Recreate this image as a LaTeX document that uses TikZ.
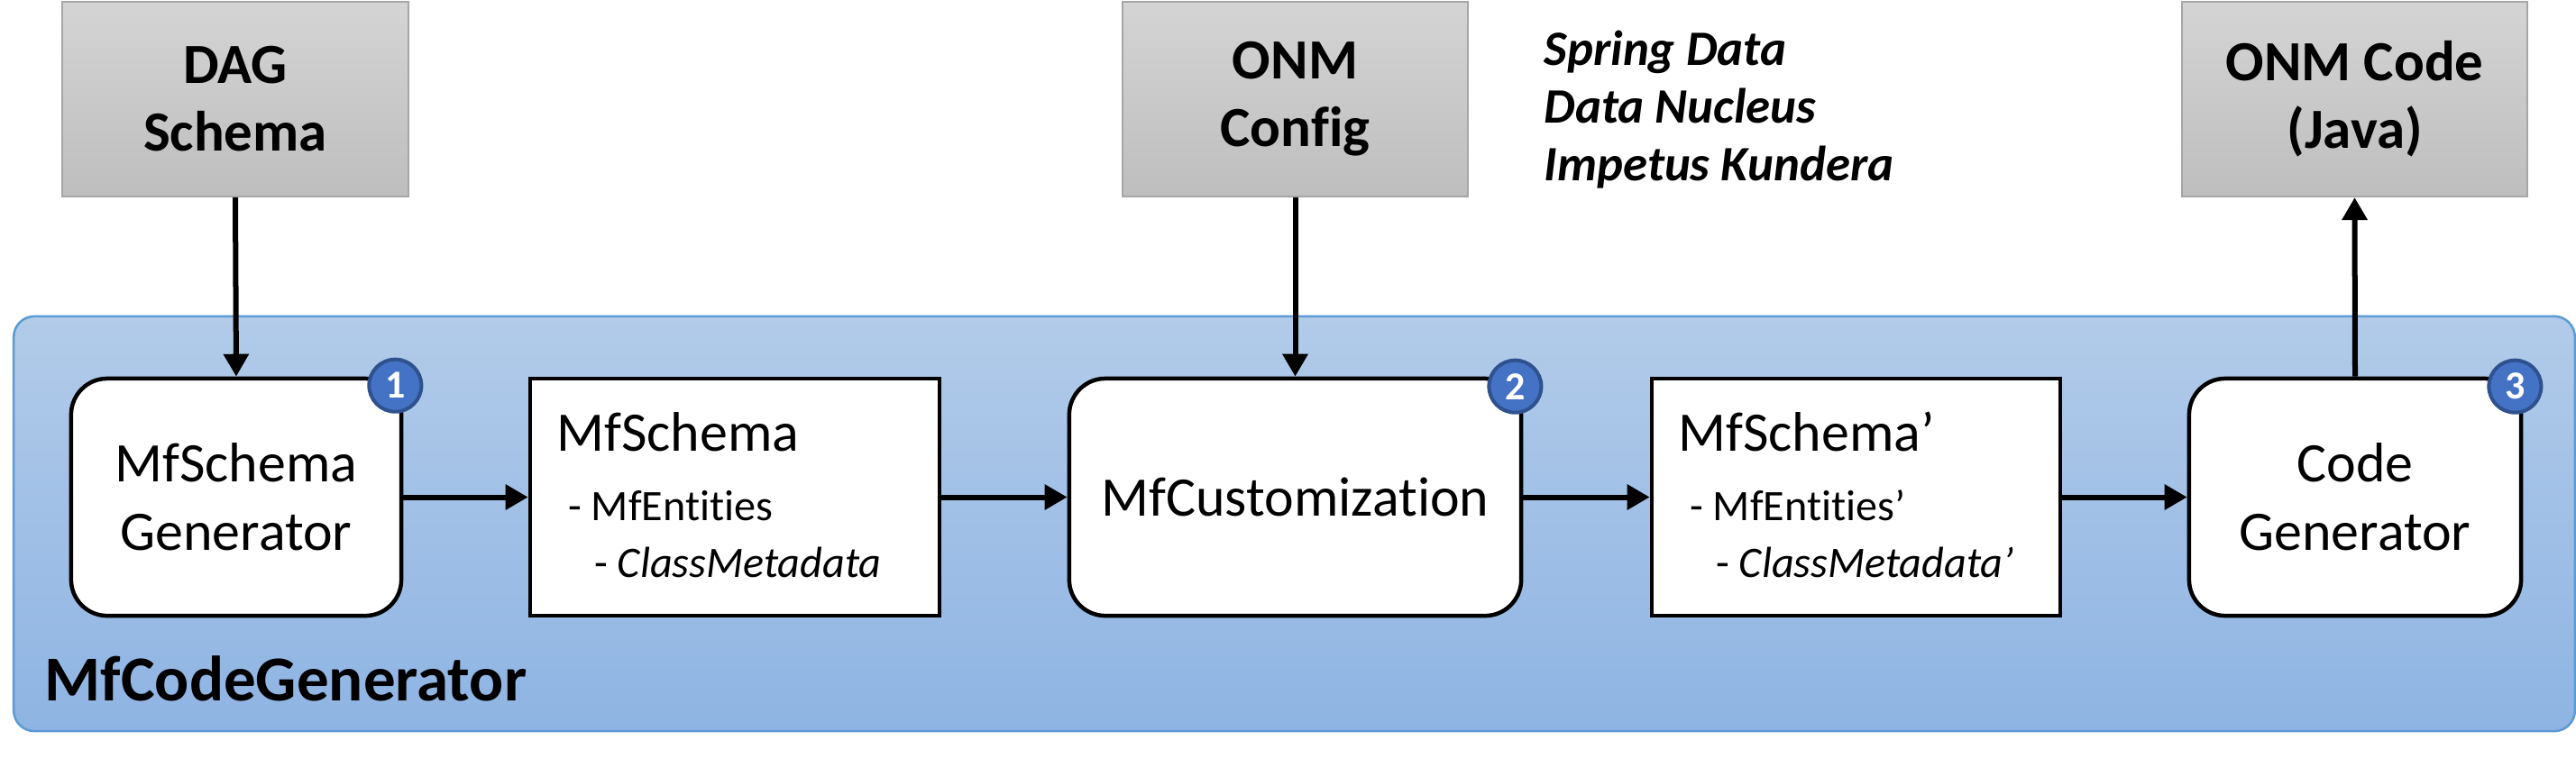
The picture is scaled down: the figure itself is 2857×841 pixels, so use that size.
\documentclass[tikz,border=0pt]{standalone}
\usepackage{fontspec}
\setmainfont{Carlito}[Ligatures=NoCommon]
\usetikzlibrary{arrows.meta,calc}
\definecolor{contTop}{RGB}{178,203,233}
\definecolor{contBot}{RGB}{142,180,227}
\definecolor{contLine}{RGB}{91,155,213}
\definecolor{grayTop}{RGB}{212,212,212}
\definecolor{grayBot}{RGB}{190,190,190}
\definecolor{grayLine}{RGB}{166,166,166}
\definecolor{badgeFill}{RGB}{68,114,196}
\definecolor{badgeLine}{RGB}{47,82,143}
\tikzset{
  container/.style={draw=contLine, line width=0.025cm, rounded corners=0.23cm,
    top color=contTop, bottom color=contBot, minimum width=28.39cm,
    minimum height=4.6cm, inner sep=0},
  inputbox/.style={draw=grayLine, line width=0.02cm, top color=grayTop,
    bottom color=grayBot, minimum width=3.83cm, minimum height=2.16cm,
    align=center, font=\bfseries\fontsize{17.9}{21.3}\selectfont, inner sep=0},
  procbox/.style={draw=black, line width=0.045cm, fill=white,
    rounded corners=0.4cm, minimum height=2.63cm, align=center,
    font=\fontsize{17.6}{21.6}\selectfont, inner sep=0},
  databox/.style={draw=black, line width=0.045cm, fill=white,
    minimum height=2.63cm, inner sep=0},
  badge/.style={circle, fill=badgeFill, draw=badgeLine, line width=0.04cm,
    minimum size=0.58cm, inner sep=0, text=white,
    font=\bfseries\fontsize{12.5}{12.5}\selectfont},
  flow/.style={line width=0.06cm, -{Triangle[length=7.1pt,width=7.7pt]}},
  listhead/.style={anchor=base west, inner sep=0, font=\fontsize{17.6}{21.6}\selectfont},
  listitem/.style={anchor=base west, inner sep=0, font=\fontsize{13.7}{16}\selectfont},
  grouplabel/.style={anchor=base west, inner sep=0, font=\bfseries\fontsize{20.2}{24}\selectfont},
  ormlist/.style={anchor=north west, align=left, inner sep=0,
    font=\bfseries\itshape\fontsize{15.6}{18.2}\selectfont}
}
\begin{document}
\begin{tikzpicture}[x=0.01cm,y=-0.01cm]
\useasboundingbox (0,0) rectangle (2857,841);

% container
\node[container] (mcg) at (1435.5,581) {};
\node[grouplabel] (mcglabel) at (49,777) {MfCodeGenerator};

% inputs / outputs
\node[inputbox] (dag) at (261,110) {DAG\\Schema};
\node[inputbox] (onmcfg) at (1436.5,110) {ONM\\Config};
\node[inputbox] (onmcode) at (2611.5,110) {ONM Code\\(Java)};
\node[ormlist] (orms) at (1712,33) {Spring Data\\Data Nucleus\\Impetus Kundera};

% process boxes
\node[procbox, minimum width=3.66cm] (gen) at (262,551.5) {MfSchema\\Generator};
\node[databox, minimum width=4.54cm] (schema) at (815,551.5) {};
\node[procbox, minimum width=5.01cm] (cust) at (1436.5,551.5) {MfCustomization};
\node[databox, minimum width=4.53cm] (schema2) at (2058.5,551.5) {};
\node[procbox, minimum width=3.68cm] (codegen) at (2612,551.5) {Code\\Generator};

% list texts
\node[listhead] (s1a) at ($(schema.north west)+(31,83)$) {MfSchema};
\node[listitem] (s1b) at ($(schema.north west)+(44,160)$) {- MfEntities};
\node[listitem] (s1c) at ($(schema.north west)+(73,223)$) {- \textit{ClassMetadata}};
\node[listhead] (s2a) at ($(schema2.north west)+(31,83)$) {MfSchema’};
\node[listitem] (s2b) at ($(schema2.north west)+(44,160)$) {- MfEntities’};
\node[listitem] (s2c) at ($(schema2.north west)+(73,223)$) {- \textit{ClassMetadata’}};

% badges
\node[badge] (b1) at ($(gen.north east)+(-9,10)$) {1};
\node[badge] (b2) at ($(cust.north east)+(-9,11)$) {2};
\node[badge] (b3) at ($(codegen.north east)+(-9,11)$) {3};

% connectors
\draw[flow] (dag.south) -- (gen.north);
\draw[flow] (onmcfg.south) -- (cust.north);
\draw[flow] (codegen.north) -- (onmcode.south);
\draw[flow] (gen.east) -- (schema.west);
\draw[flow] (schema.east) -- (cust.west);
\draw[flow] (cust.east) -- (schema2.west);
\draw[flow] (schema2.east) -- (codegen.west);
\end{tikzpicture}
\end{document}
